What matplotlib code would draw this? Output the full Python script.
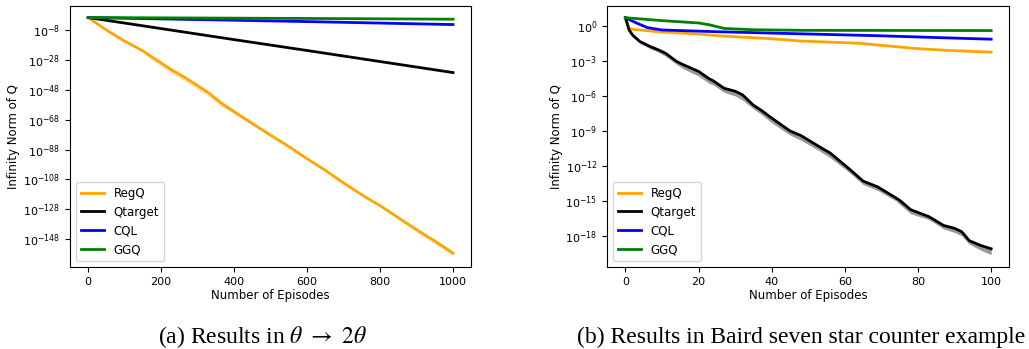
import numpy as np
import matplotlib.pyplot as plt

# (a) theta -> 2 theta, values are log10 of infinity norm
a_ep = [0, 47, 93, 148, 175, 230, 266, 330, 366, 421, 499,
        553, 590, 644, 699, 763, 799, 845, 900, 954, 1000]
a_regq = [0.5, -7.4, -14.4, -21.6, -26.0, -34.8, -39.8, -50.0, -57.1, -66.0, -78.3,
          -86.5, -92.7, -101.0, -110.3, -120.4, -125.5, -133.0, -141.8, -150.0, -157.5]
a_regq_lo = [0.5, -7.6, -14.7, -22.6, -28.0, -37.0, -42.2, -52.3, -59.2, -67.5, -78.9,
             -87.0, -93.2, -101.5, -110.8, -120.9, -126.1, -133.7, -143.3, -151.9, -159.0]
a_regq_hi = [0.5, -7.2, -14.2, -21.3, -25.6, -34.3, -39.3, -49.5, -56.6, -65.6, -77.9,
             -86.1, -92.3, -100.6, -109.9, -120.0, -125.1, -132.6, -141.4, -149.5, -157.0]

a_ep2 = [0, 200, 400, 600, 800, 1000]
a_qtarget = [0.5, -6.9, -14.3, -21.6, -29.0, -36.4]
a_cql = [0.5, -0.4, -1.3, -2.2, -3.2, -4.2]
a_ggq = [0.5, 0.3, 0.1, -0.1, -0.35, -0.6]

# (b) Baird seven star counter example
b_q_ep = [0, 1, 2, 4, 7, 9, 11, 14, 16, 20, 23, 24, 27, 30, 32, 35, 37, 40, 45, 48,
          53, 56, 61, 65, 69, 74, 75, 78, 83, 87, 90, 92, 94, 97, 100]
b_qtarget = [0.7, -0.35, -0.8, -1.35, -1.8, -2.05, -2.35, -3.05, -3.35, -3.9, -4.55, -4.7,
             -5.35, -5.6, -5.9, -6.8, -7.2, -7.9, -9.0, -9.4, -10.35, -10.9, -12.2, -13.3,
             -13.8, -14.75, -14.95, -15.75, -16.35, -17.1, -17.35, -17.65, -18.4, -18.8, -19.1]
b_qtarget_lo = [0.7, -0.4, -0.9, -1.5, -2.0, -2.25, -2.6, -3.3, -3.7, -4.3, -4.95, -5.05,
                -5.7, -6.0, -6.35, -7.1, -7.55, -8.3, -9.35, -9.8, -10.7, -11.3, -12.5, -13.6,
                -14.1, -15.0, -15.3, -16.1, -16.6, -17.4, -17.7, -18.0, -18.7, -19.2, -19.6]
b_qtarget_hi = [0.7, -0.3, -0.7, -1.25, -1.7, -1.95, -2.25, -2.95, -3.25, -3.8, -4.45, -4.6,
                -5.25, -5.5, -5.8, -6.7, -7.1, -7.8, -8.9, -9.3, -10.25, -10.8, -12.1, -13.2,
                -13.7, -14.65, -14.85, -15.65, -16.25, -17.0, -17.25, -17.55, -18.3, -18.7, -19.0]

b_regq_ep = [0, 1, 2, 9, 20, 26, 40, 48, 55, 64, 71, 80, 88, 100]
b_regq = [0.7, -0.2, -0.3, -0.5, -0.7, -0.86, -1.1, -1.3, -1.38, -1.49, -1.7, -1.95, -2.1, -2.25]

b_cql_ep = [0, 3, 6, 10, 25, 48, 70, 85, 100]
b_cql = [0.7, 0.25, -0.15, -0.35, -0.5, -0.68, -0.85, -1.0, -1.14]

b_ggq_ep = [0, 10, 20, 23, 27, 35, 48, 100]
b_ggq = [0.7, 0.45, 0.25, 0.09, -0.22, -0.33, -0.38, -0.4]

labels = ['RegQ', 'Qtarget', 'CQL', 'GGQ']
colors = ['orange', 'black', 'blue', 'green']

p = lambda v: 10.0 ** np.array(v)

fig = plt.figure(figsize=(10.29, 3.49), dpi=100)
ax1 = fig.add_axes([0.068, 0.235, 0.39, 0.748])
ax2 = fig.add_axes([0.590, 0.235, 0.391, 0.748])

# left panel
ax1.fill_between(a_ep, p(a_regq_lo), p(a_regq_hi), color='orange', alpha=0.35, lw=0)
ax1.plot(a_ep, p(a_regq), color=colors[0], lw=2, label=labels[0])
ax1.plot(a_ep2, p(a_qtarget), color=colors[1], lw=2, label=labels[1])
ax1.plot(a_ep2, p(a_cql), color=colors[2], lw=2, label=labels[2])
ax1.plot(a_ep2, p(a_ggq), color=colors[3], lw=2, label=labels[3])
ax1.set_yscale('log')
ax1.set_yticks(p(np.arange(-8, -149, -20)))
ax1.set_ylim(10.0 ** -166.8, 10.0 ** 8.3)
ax1.set_xticks([0, 200, 400, 600, 800, 1000])
ax1.set_xlim(-50, 1050)

# right panel
ax2.fill_between(b_q_ep, p(b_qtarget_lo), p(b_qtarget_hi), color='black', alpha=0.4, lw=0)
ax2.plot(b_regq_ep, p(b_regq), color=colors[0], lw=2, label=labels[0])
ax2.plot(b_q_ep, p(b_qtarget), color=colors[1], lw=2, label=labels[1])
ax2.plot(b_cql_ep, p(b_cql), color=colors[2], lw=2, label=labels[2])
ax2.plot(b_ggq_ep, p(b_ggq), color=colors[3], lw=2, label=labels[3])
ax2.set_yscale('log')
ax2.set_yticks(p(np.arange(0, -19, -3)))
ax2.set_ylim(10.0 ** -20.66, 10.0 ** 1.71)
ax2.set_xticks([0, 20, 40, 60, 80, 100])
ax2.set_xlim(-5, 105)

for ax in (ax1, ax2):
    ax.minorticks_off()
    ax.tick_params(labelsize=8)
    ax.set_xlabel('Number of Episodes', fontsize=8.5, labelpad=2)
    ax.set_ylabel('Infinity Norm of Q', fontsize=8.5, labelpad=2)
    ax.legend(loc='lower left', fontsize=8.5)

fig.text(0.255, 0.034, r'(a) Results in $\theta\ \rightarrow\ 2\theta$', ha='center', va='center',
         fontsize=17, family='Liberation Serif', math_fontfamily='stix')
fig.text(0.779, 0.034, '(b) Results in Baird seven star counter example', ha='center', va='center',
         fontsize=17, family='Liberation Serif')

fig.savefig('out.png', dpi=100)
